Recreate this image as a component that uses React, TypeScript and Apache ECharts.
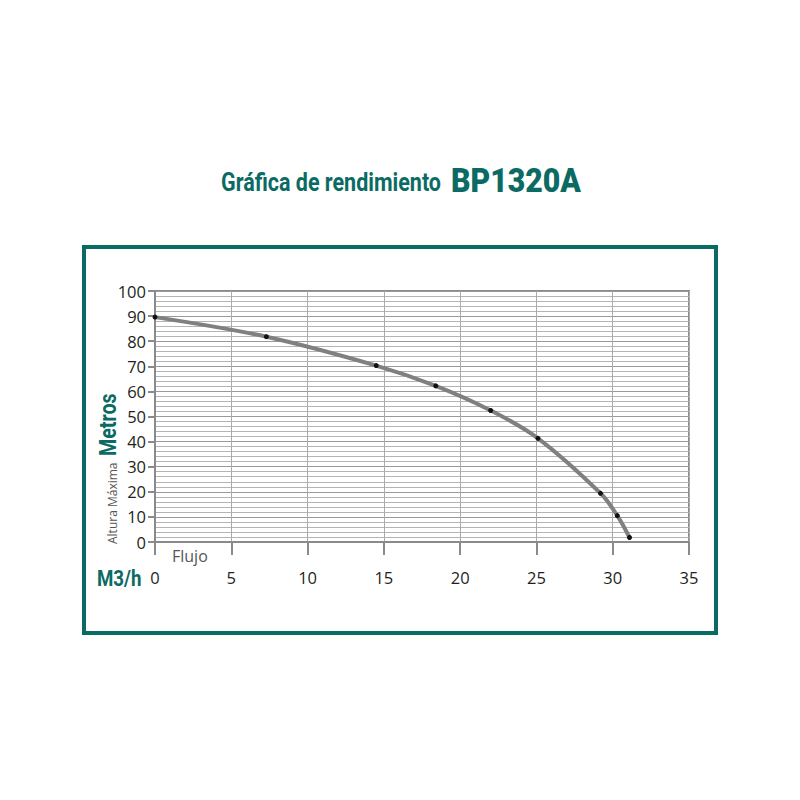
import React, { useEffect, useRef } from "react";
import * as echarts from "echarts";

const flow = [0, 7.3, 14.5, 18.4, 22.0, 25.1, 29.2, 30.3, 31.1];
const head = [89.6, 81.8, 70.3, 62.2, 52.4, 41.3, 19.4, 10.5, 1.8];
const xTicks = [0, 5, 10, 15, 20, 25, 30, 35];
const yTicks = [0, 10, 20, 30, 40, 50, 60, 70, 80, 90, 100];

const TEAL = "#0b6b64";
const BOLD = "'Roboto', 'Liberation Sans', sans-serif";
const LABEL_FONT = "'Open Sans', 'Noto Sans', sans-serif";

export default function App() {
  const ref = useRef<HTMLDivElement>(null);
  useEffect(() => {
    if (!ref.current) return;
    const chart = echarts.init(ref.current, undefined, { renderer: "svg" });
    chart.setOption({
      animation: false,
      backgroundColor: "#ffffff",
      grid: {
        left: 155,
        right: 111,
        top: 291,
        bottom: 258,
        show: true,
        borderColor: "#8a8a8a",
        borderWidth: 2,
      },
      xAxis: {
        type: "value",
        min: xTicks[0],
        max: xTicks[xTicks.length - 1],
        interval: 5,
        axisLine: { show: true, lineStyle: { color: "#8a8a8a", width: 2 } },
        axisTick: { show: true, length: 13, lineStyle: { color: "#8a8a8a", width: 2 } },
        axisLabel: { fontFamily: LABEL_FONT, fontSize: 16.5, color: "#231f20", margin: 27 },
        splitLine: { show: true, lineStyle: { color: "#ababab", width: 1 } },
      },
      yAxis: {
        type: "value",
        min: yTicks[0],
        max: yTicks[yTicks.length - 1],
        interval: 10,
        axisLine: { show: true, lineStyle: { color: "#8a8a8a", width: 2 } },
        axisTick: { show: true, length: 7, lineStyle: { color: "#8a8a8a", width: 2 } },
        axisLabel: { fontFamily: LABEL_FONT, fontSize: 16.5, color: "#231f20", margin: 9 },
        splitLine: { show: true, lineStyle: { color: "#9a9a9a", width: 1 } },
        minorTick: { show: false, splitNumber: 5 },
        minorSplitLine: { show: true, lineStyle: { color: "#b4b4b4", width: 1 } },
      },
      series: [
        {
          type: "line",
          data: flow.map((f, i) => [f, head[i]]),
          smooth: 0.35,
          symbol: "circle",
          symbolSize: 5,
          showSymbol: true,
          itemStyle: { color: "#111111" },
          lineStyle: { color: "#808080", width: 4 },
          z: 3,
        },
      ],
      graphic: [
        {
          type: "rect",
          shape: { x: 84, y: 247, width: 632, height: 386 },
          style: { fill: "none", stroke: TEAL, lineWidth: 4 },
          silent: true,
        },
        {
          type: "text",
          x: 441,
          y: 195,
          scaleX: 0.86,
          style: {
            text: "Gráfica de rendimiento",
            textAlign: "right",
            textVerticalAlign: "bottom",
            fontFamily: BOLD,
            fontWeight: "bold",
            fontSize: 25,
            fill: TEAL,
          },
        },
        {
          type: "text",
          x: 451,
          y: 197,
          scaleX: 0.89,
          style: {
            text: "BP1320A",
            textAlign: "left",
            textVerticalAlign: "bottom",
            fontFamily: BOLD,
            fontWeight: 900,
            fontSize: 34,
            fill: TEAL,
          },
        },
        {
          type: "text",
          x: 118,
          y: 544,
          rotation: Math.PI / 2,
          style: {
            text: "Altura Máxima",
            textAlign: "left",
            textVerticalAlign: "bottom",
            fontFamily: LABEL_FONT,
            fontSize: 12,
            fill: "#555555",
          },
        },
        {
          type: "text",
          x: 120,
          y: 456,
          rotation: Math.PI / 2,
          scaleX: 0.82,
          style: {
            text: "Metros",
            textAlign: "left",
            textVerticalAlign: "bottom",
            fontFamily: BOLD,
            fontWeight: "bold",
            fontSize: 24,
            fill: TEAL,
          },
        },
        {
          type: "text",
          x: 97,
          y: 578,
          scaleX: 0.85,
          style: {
            text: "M3/h",
            textAlign: "left",
            textVerticalAlign: "middle",
            fontFamily: BOLD,
            fontWeight: "bold",
            fontSize: 22,
            fill: TEAL,
          },
        },
        {
          type: "text",
          x: 172,
          y: 556,
          style: {
            text: "Flujo",
            textAlign: "left",
            textVerticalAlign: "middle",
            fontFamily: LABEL_FONT,
            fontSize: 16,
            fill: "#555555",
          },
        },
      ],
    });
    return () => chart.dispose();
  }, []);
  return (
    <div
      ref={ref}
      style={{ position: "absolute", left: 0, top: 0, width: 800, height: 800 }}
    />
  );
}
